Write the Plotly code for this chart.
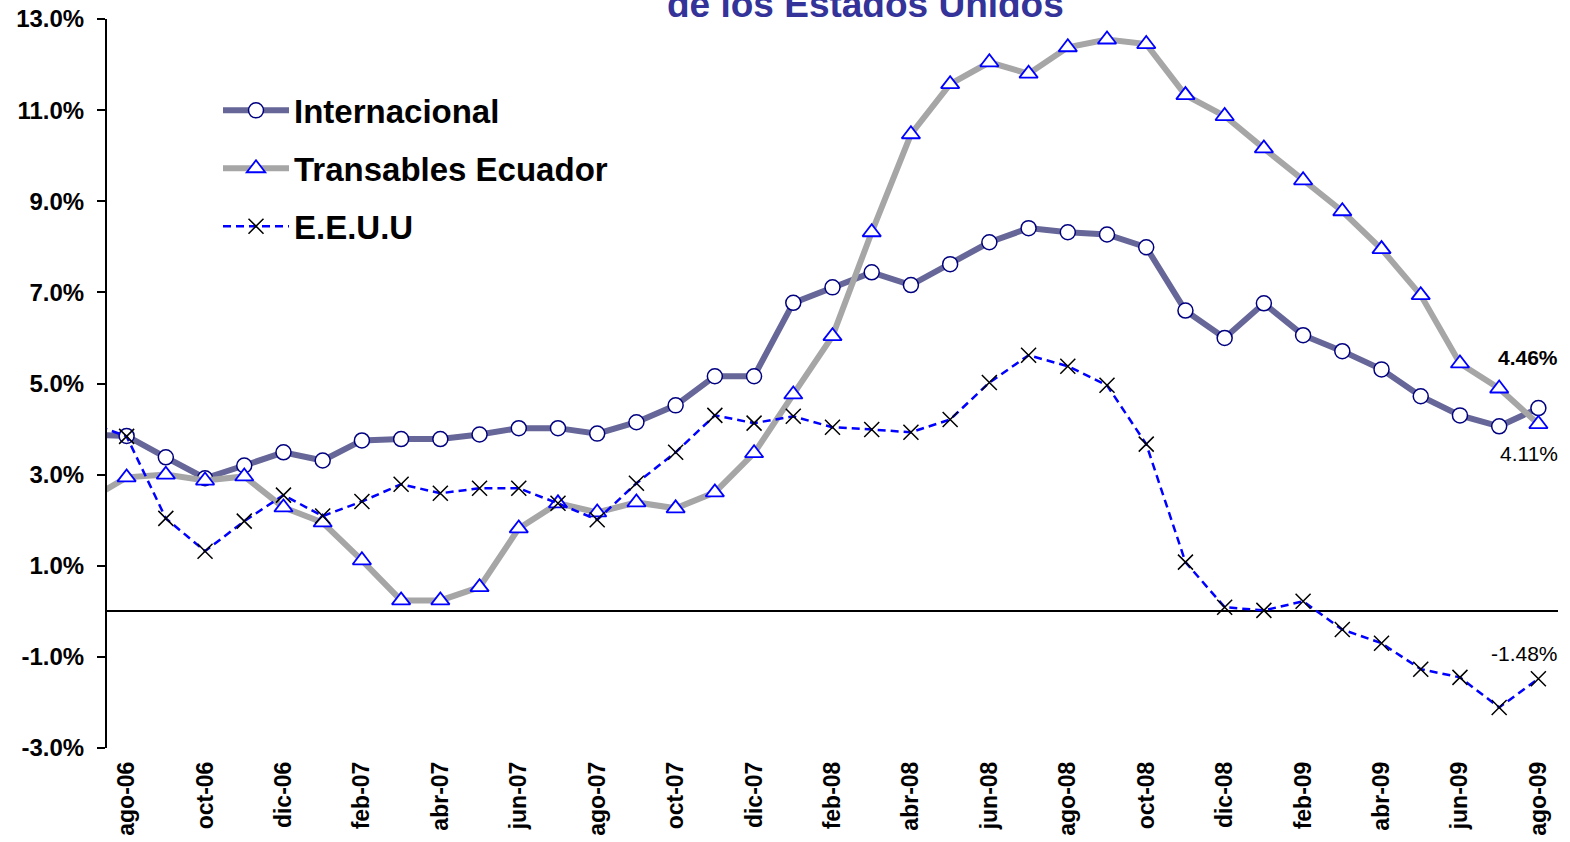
import plotly.graph_objects as go

months = ["jul-06", "ago-06", "sep-06", "oct-06", "nov-06", "dic-06",
          "ene-07", "feb-07", "mar-07", "abr-07", "may-07", "jun-07", "jul-07",
          "ago-07", "sep-07", "oct-07", "nov-07", "dic-07",
          "ene-08", "feb-08", "mar-08", "abr-08", "may-08", "jun-08", "jul-08",
          "ago-08", "sep-08", "oct-08", "nov-08", "dic-08",
          "ene-09", "feb-09", "mar-09", "abr-09", "may-09", "jun-09", "jul-09", "ago-09"]

internacional = [3.88, 3.85, 3.38, 2.92, 3.20, 3.49, 3.31, 3.75, 3.78, 3.78, 3.88, 4.02, 4.02,
                 3.90, 4.15, 4.52, 5.16, 5.16, 6.77, 7.11, 7.44, 7.16, 7.62, 8.10, 8.41,
                 8.32, 8.27, 7.99, 6.60, 6.00, 6.76, 6.06, 5.71, 5.31, 4.72, 4.30, 4.06, 4.46]

transables = [2.43, 2.94, 3.00, 2.87, 2.96, 2.28, 1.95, 1.12, 0.24, 0.24, 0.53, 1.82, 2.37,
              2.17, 2.39, 2.26, 2.61, 3.47, 4.76, 6.04, 8.32, 10.47, 11.57, 12.05, 11.80,
              12.38, 12.55, 12.45, 11.33, 10.87, 10.16, 9.46, 8.78, 7.95, 6.94, 5.44, 4.89, 4.11]

eeuu = [4.15, 3.84, 2.04, 1.32, 1.98, 2.55, 2.09, 2.41, 2.79, 2.59, 2.70, 2.70, 2.37,
        2.01, 2.81, 3.49, 4.30, 4.13, 4.28, 4.04, 3.99, 3.93, 4.21, 5.02, 5.62,
        5.38, 4.96, 3.67, 1.08, 0.09, 0.02, 0.22, -0.40, -0.70, -1.27, -1.45, -2.11, -1.48]

y_ticks = [-3.0, -1.0, 1.0, 3.0, 5.0, 7.0, 9.0, 11.0, 13.0]
y_tick_text = ["-3.0%", "-1.0%", "1.0%", "3.0%", "5.0%", "7.0%", "9.0%", "11.0%", "13.0%"]

series_names = ["Internacional", "Transables Ecuador", "E.E.U.U"]
title_text = "de los Estados Unidos"

x = list(range(-1, len(months) - 1))
tick_vals = [i for i in x if i >= 0 and i % 2 == 0]
tick_text = [months[i + 1] for i in tick_vals]
boundary_ticks = [i - 0.5 for i in tick_vals]

FONT = "Liberation Sans, Arial, sans-serif"

fig = go.Figure()
fig.add_trace(go.Scatter(
    x=x, y=internacional, name=series_names[0], mode="lines+markers",
    line=dict(color="#666699", width=6),
    marker=dict(symbol="circle", size=15, color="white",
                line=dict(color="#000080", width=1.5)),
    legendgroup="a", cliponaxis=True))
fig.add_trace(go.Scatter(
    x=x, y=transables, name=series_names[1], mode="lines+markers",
    line=dict(color="#A6A6A6", width=6),
    marker=dict(symbol="triangle-up", size=16, color="white",
                line=dict(color="#0000FF", width=1.8)),
    legendgroup="b", cliponaxis=True))
fig.add_trace(go.Scatter(
    x=x, y=eeuu, name=series_names[2], mode="lines+markers",
    line=dict(color="#0000FF", width=2.5, dash="8px,5px"),
    marker=dict(symbol="x-thin", size=15, color="black",
                line=dict(color="black", width=1.5)),
    legendgroup="c", cliponaxis=True))

# end-of-series labels
last = len(months) - 2
fig.add_annotation(x=last, y=internacional[-1], text=f"{internacional[-1]:.2f}%",
                   showarrow=False, xanchor="right", yanchor="middle",
                   xshift=22, yshift=51,
                   font=dict(family=FONT, size=21, color="black", weight="bold"))
fig.add_annotation(x=last, y=transables[-1], text=f"{transables[-1]:.2f}%",
                   showarrow=False, xanchor="right", yanchor="middle",
                   xshift=22, yshift=-29,
                   font=dict(family=FONT, size=21, color="black"))
fig.add_annotation(x=last, y=eeuu[-1], text=f"{eeuu[-1]:.2f}%",
                   showarrow=False, xanchor="right", yanchor="middle",
                   xshift=22, yshift=25,
                   font=dict(family=FONT, size=21, color="black"))

# title (upper part cut off by the page edge, as in the reference)
fig.add_annotation(x=0.523, y=0.989, xref="paper", yref="paper", text=f"<b>{title_text}</b>",
                   showarrow=False, xanchor="center", yanchor="bottom",
                   font=dict(family=FONT, size=37, color="#333399"))

fig.update_layout(
    width=1570, height=842,
    margin=dict(l=107, r=12, t=19, b=94, autoexpand=False),
    paper_bgcolor="white", plot_bgcolor="white",
    font=dict(family=FONT, color="black"),
    showlegend=True,
    legend=dict(x=0.0765, y=0.913, xanchor="left", yanchor="top",
                bgcolor="rgba(0,0,0,0)", itemwidth=66, tracegroupgap=12,
                font=dict(family=FONT, size=33, color="black", weight="bold")),
    xaxis=dict(range=[-0.5, len(months) - 1.5], tickmode="array",
               tickvals=tick_vals, ticktext=tick_text, tickangle=-90,
               ticks="", showgrid=False, zeroline=False, showline=False,
               ticklabelstandoff=8, automargin=False,
               tickfont=dict(family=FONT, size=23, color="black", weight="bold")),
    xaxis2=dict(range=[-0.5, len(months) - 1.5], overlaying="x", anchor="free",
                position=3 / 16, tickmode="array", tickvals=boundary_ticks,
                ticks="outside", ticklen=8, tickwidth=2, tickcolor="black",
                showticklabels=False, showgrid=False, zeroline=False, showline=False),
    yaxis=dict(range=[-3, 13], tickmode="array", tickvals=y_ticks, ticktext=y_tick_text,
               ticks="outside", ticklen=8, tickwidth=2, tickcolor="black",
               showline=True, linewidth=2, linecolor="black",
               showgrid=False, zeroline=True, zerolinecolor="black", zerolinewidth=2,
               ticklabelstandoff=8, automargin=False,
               tickfont=dict(family=FONT, size=24, color="black", weight="bold")),
)

fig.write_html("out.html", config={"displayModeBar": False},
               post_script="document.body.style.margin='0';document.body.style.overflow='hidden';")
